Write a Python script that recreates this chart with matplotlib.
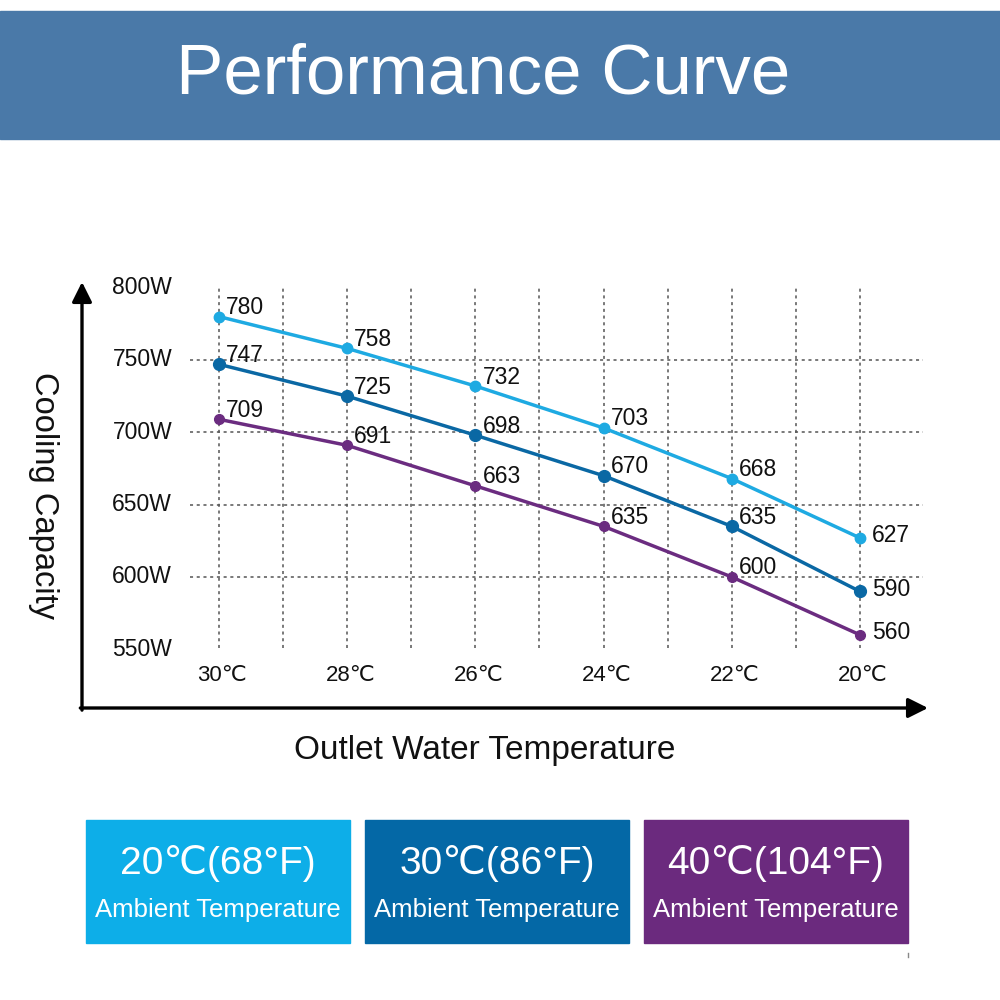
import numpy as np
import matplotlib
matplotlib.use('Agg')
import matplotlib.pyplot as plt
from matplotlib.patches import Rectangle

plt.rcParams['font.family'] = ['Liberation Sans', 'DejaVu Sans']

# data
temps = [30, 28, 26, 24, 22, 20]
temp_labels = ['30℃', '28℃', '26℃', '24℃', '22℃', '20℃']
cap_20 = [780, 758, 732, 703, 668, 627]
cap_30 = [747, 725, 698, 670, 635, 590]
cap_40 = [709, 691, 663, 635, 600, 560]
y_ticks = [800, 750, 700, 650, 600, 550]
y_tick_labels = ['800W', '750W', '700W', '650W', '600W', '550W']
grid_x = [30, 29, 28, 27, 26, 25, 24, 23, 22, 21, 20]
grid_y = [750, 700, 650, 600]
ambient_c = ['20℃(68°F)', '30℃(86°F)', '40℃(104°F)']

c_light = '#1eaae2'
c_dark = '#0a68a4'
c_purple = '#6b2c80'
box_cols = ['#0daee8', '#0468a6', '#6b2a7e']

fig = plt.figure(figsize=(10, 10), dpi=100)

# title band
fig.add_artist(Rectangle((0, 1 - 0.139), 1, 0.128, transform=fig.transFigure,
                         color='#4a79a8', zorder=0))
fig.text(0.483, 1 - 0.075, 'Performance Curve', color='white', fontsize=51,
         ha='center', va='center')

ax = fig.add_axes([0.082, 0.292, 0.846, 0.426])
ax.set_xlim(32.137, 18.939)
ax.set_ylim(509.45, 803.9)
ax.axis('off')

# dotted grid
ax.vlines(grid_x, 551, 800, colors='#555555', linestyles=(0, (2, 2.4)), lw=1.1, zorder=1)
ax.hlines(grid_y, 30.45, 19.02, colors='#555555', linestyles=(0, (2, 2.4)), lw=1.1, zorder=1)

# axis arrows
arr = dict(arrowstyle='-|>', lw=2.4, color='black', mutation_scale=30, shrinkA=0, shrinkB=0)
ax.annotate('', xy=(0, 1), xytext=(0, -0.005), xycoords='axes fraction', arrowprops=arr)
ax.annotate('', xy=(1, 0), xytext=(-0.002, 0), xycoords='axes fraction', arrowprops=arr)

series = [(cap_20, c_light, 7.5), (cap_30, c_dark, 8.5), (cap_40, c_purple, 7)]
for vals, col, ms in series:
    ax.plot(temps, vals, color=col, lw=2.5, marker='o', ms=ms, zorder=3)
    for i, (t, v) in enumerate(zip(temps, vals)):
        off = (12, 2) if i == len(temps) - 1 else (7, 9)
        ax.annotate(str(v), (t, v), xytext=off, textcoords='offset pixels',
                    ha='left', va='center', fontsize=16.5, color='#111111', zorder=4)

for v, lab in zip(y_ticks, y_tick_labels):
    ax.text(30.73, v, lab, ha='right', va='center', fontsize=16.5, color='#111111')
for t, lab in zip(temps, temp_labels):
    ax.text(t - 0.05, 532, lab, ha='center', va='center', fontsize=16, color='#111111')

fig.text(0.043, 1 - 0.495, 'Cooling Capacity', rotation=270, ha='center', va='center',
         fontsize=23.5, color='#111111')
fig.text(0.485, 1 - 0.750, 'Outlet Water Temperature', ha='center', va='center',
         fontsize=24, color='#111111')

# ambient temperature boxes
box_left = [0.086, 0.365, 0.644]
for x0, col, lab in zip(box_left, box_cols, ambient_c):
    fig.add_artist(Rectangle((x0, 1 - 0.943), 0.264, 0.123, transform=fig.transFigure,
                             color=col, zorder=0))
    fig.text(x0 + 0.132, 1 - 0.863, lab, ha='center', va='center', fontsize=28, color='white')
    fig.text(x0 + 0.132, 1 - 0.910, 'Ambient Temperature', ha='center', va='center',
             fontsize=18.5, color='white')

# small stray mark at lower right
fig.add_artist(plt.Line2D([0.908, 0.908], [1 - 0.957, 1 - 0.953], transform=fig.transFigure,
                          color='#888888', lw=1))

fig.savefig('out.png', dpi=100)
